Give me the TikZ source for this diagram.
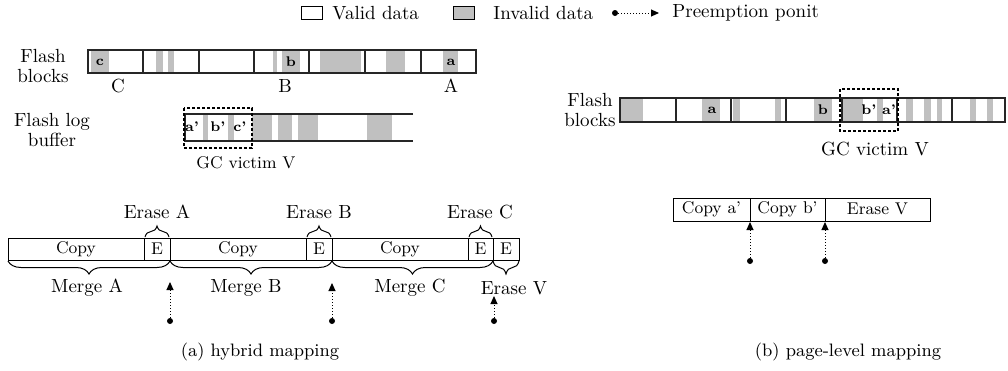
\documentclass[tikz,border=0pt]{standalone}
\usetikzlibrary{decorations.pathreplacing,arrows.meta}
\definecolor{inv}{RGB}{192,192,192}
\begin{document}
\begin{tikzpicture}[x=0.5pt,y=-0.5pt,
  lbl/.style={inner sep=0pt, font=\fontsize{9.5}{10}\selectfont},
  two/.style={inner sep=0pt, align=center, font=\fontsize{9.5}{10}\selectfont},
  small/.style={inner sep=0pt, font=\fontsize{7}{8}\selectfont\bfseries},
  boxlbl/.style={inner sep=0pt, font=\fontsize{8.5}{10}\selectfont},
  captxt/.style={inner sep=0pt, font=\fontsize{9}{10}\selectfont},
  strip/.style={draw=black!85, line width=0.6pt},
  gcbox/.style={draw, line width=0.8pt, dash pattern=on 1.5pt off 1pt},
  brcup/.style={decorate, decoration={brace, amplitude=5.5pt}, line width=0.5pt},
  brcdn/.style={decorate, decoration={brace, amplitude=6.5pt}, line width=0.5pt},
  pre/.style={densely dotted, line width=0.5pt, -{Triangle[length=4pt,width=3.5pt]}},
  dot/.style={circle, fill, inner sep=0pt, minimum size=3pt}
]
\useasboundingbox (0,0) rectangle (1008,370);

% ---------------- legend ----------------
\node[draw, line width=0.5pt, minimum width=10.5pt, minimum height=6.5pt, inner sep=0pt] (lv) at (312,13) {};
\node[lbl, anchor=west] (lvt) at (332,13) {Valid data};
\node[draw, fill=inv, line width=0.5pt, minimum width=10.5pt, minimum height=6.5pt, inner sep=0pt] (li) at (464,13) {};
\node[lbl, anchor=west] (lit) at (493,13) {Invalid data};
\node[dot] (ld) at (615,13) {};
\coordinate (la) at (659,13);
\draw[pre] (ld) -- (la);
\node[lbl, anchor=west] (lpt) at (672,13) {Preemption ponit};

% ---------------- (a) flash blocks ----------------
\node[two] (fb1) at (43,66) {Flash\\blocks};
\foreach \a/\b in {91/109,156/163,168/174,273/277,282/300,320/361,386/405,443/458}
  \fill[inv] (\a,50) rectangle (\b,73);
\draw[strip] (88,50) rectangle (476,73);
\foreach \x in {143,199,254,309,365,421}
  \draw[strip] (\x,50) -- (\x,73);
\node[small] (lc) at (100,62) {c};
\node[small] (lb) at (291,62) {b};
\node[small] (la1) at (451,62) {a};
\node[lbl] (bC) at (118,86) {C};
\node[lbl] (bB) at (285,86) {B};
\node[lbl] (bA) at (451,86) {A};

% ---------------- (a) flash log buffer ----------------
\node[two] (flb) at (52,130) {Flash log\\buffer};
\foreach \a/\b in {203/208,228/234,252/272,278/292,298/318,367/392}
  \fill[inv] (\a,114) rectangle (\b,141);
\draw[strip] (413,114) -- (185,114) -- (185,141) -- (413,141);
\node[small] (lap) at (192,127) {a'};
\node[small] (lbp) at (218,127) {b'};
\node[small] (lcp) at (240,127) {c'};
\draw[gcbox] (184,108) rectangle (252,148);
\node[inner sep=0pt, font=\fontsize{8.5}{10}\selectfont] (gc1) at (246,163) {GC victim V};

% ---------------- (a) timeline ----------------
\foreach \a/\b in {8/144,144/170,170/306,306/332,332/468,468/493,493/519}
  \draw[line width=0.5pt] (\a,238) rectangle (\b,260);
\node[boxlbl] (c1) at (76,249) {Copy};
\node[boxlbl] (e1) at (157,249) {E};
\node[boxlbl] (c2) at (238,249) {Copy};
\node[boxlbl] (e2) at (319,249) {E};
\node[boxlbl] (c3) at (400,249) {Copy};
\node[boxlbl] (e3) at (480.5,249) {E};
\node[boxlbl] (e4) at (506,249) {E};

\draw[brcup] (145,237) -- (169,237);
\draw[brcup] (307,237) -- (331,237);
\draw[brcup] (469,237) -- (492,237);
\node[lbl] (eA) at (157,212) {Erase A};
\node[lbl] (eB) at (319,212) {Erase B};
\node[lbl] (eC) at (480,212) {Erase C};

\draw[brcdn] (170,261) -- (8,261);
\draw[brcdn] (332,261) -- (170,261);
\draw[brcdn] (493,261) -- (332,261);
\draw[brcdn] (519,261) -- (493,261);
\node[lbl] (mA) at (87,288) {Merge A};
\node[lbl] (mB) at (246,288) {Merge B};
\node[lbl] (mC) at (410,288) {Merge C};
\node[lbl] (eV) at (514,288) {Erase V};

\node[dot] (d1) at (170,321) {};
\node[dot] (d2) at (332,321) {};
\node[dot] (d3) at (494,321) {};
\coordinate (t1) at (170,282);
\coordinate (t2) at (332,283);
\coordinate (t3) at (494,296);
\draw[pre] (d1) -- (t1);
\draw[pre] (d2) -- (t2);
\draw[pre] (d3) -- (t3);

\node[captxt] (capa) at (260,352) {(a) hybrid mapping};

% ---------------- (b) flash blocks ----------------
\node[two] (fb2) at (590,110) {Flash\\blocks};
\foreach \a/\b in {621/643,702/720,733/740,775/781,814/832,842/863,877/883,906/913,924/931,937/942,970/976,987/993}
  \fill[inv] (\a,98) rectangle (\b,122);
\draw[strip] (620,98) rectangle (1005,122);
\foreach \x in {676,731,786,842,897,952}
  \draw[strip] (\x,98) -- (\x,122);
\node[small] (ra) at (712,110) {a};
\node[small] (rb) at (823,110) {b};
\node[small] (rbp) at (869,110) {b'};
\node[small] (rap) at (889,110) {a'};
\draw[gcbox] (840,89) rectangle (898,131);
\node[lbl] (gc2) at (875,149) {GC victim V};

% ---------------- (b) timeline ----------------
\foreach \a/\b in {673/750,750/825,825/930}
  \draw[line width=0.5pt] (\a,198) rectangle (\b,221);
\node[boxlbl] (ca) at (711.5,209) {Copy a'};
\node[boxlbl] (cb) at (787.5,209) {Copy b'};
\node[boxlbl] (ev) at (877.5,209) {Erase V};
\node[dot] (d4) at (750,261) {};
\node[dot] (d5) at (825,261) {};
\coordinate (t4) at (750,222);
\coordinate (t5) at (825,222);
\draw[pre] (d4) -- (t4);
\draw[pre] (d5) -- (t5);

\node[captxt] (capb) at (848,352) {(b) page-level mapping};
\end{tikzpicture}
\end{document}
